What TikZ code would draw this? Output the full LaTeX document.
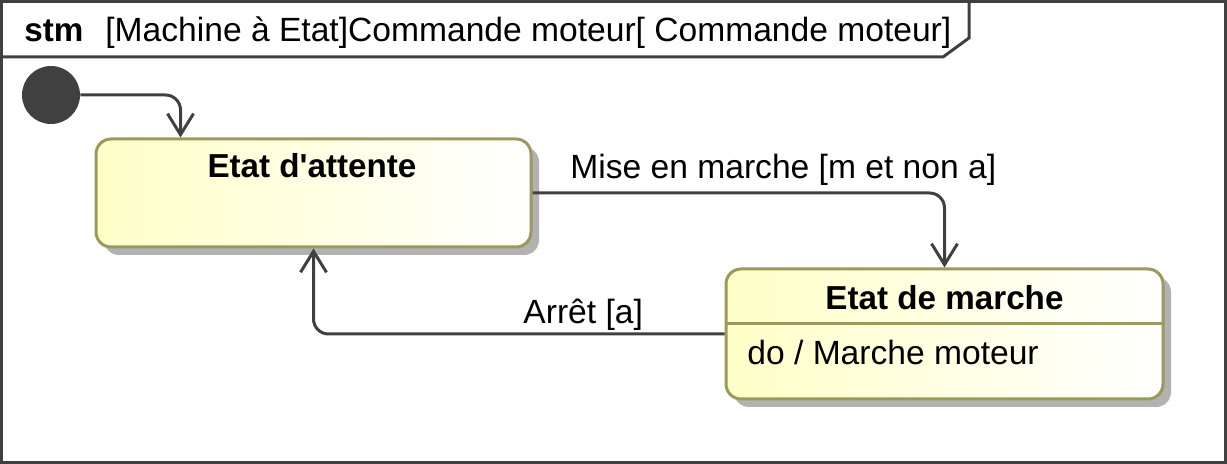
\documentclass[tikz,border=0pt]{standalone}
\usepackage{fontspec}
\setmainfont{Liberation Sans}
\usepackage{tikz}
\usetikzlibrary{shadows}
\usetikzlibrary{positioning}
\usetikzlibrary{arrows.meta}

\definecolor{linegray}{RGB}{64,64,64}
\definecolor{stateborder}{RGB}{155,153,92}
\definecolor{stateyellow}{RGB}{255,255,200}

\begin{document}
\begin{tikzpicture}[x=0.5pt, y=-0.5pt,
        state/.style={rectangle, rounded corners=7.5pt, draw=stateborder, line width=1.5pt, left color=stateyellow, right color=white, drop shadow={shadow xshift=4pt, shadow yshift=-4pt, fill=black!30, opacity=1}},
        initial/.style={circle, fill=linegray, minimum size=29pt, inner sep=0pt},
        trans/.style={draw=linegray, line width=1.5pt, rounded corners=7.5pt, -{Straight Barb[length=10.5pt, width=13pt]}},
        txt/.style={font=\fontsize{16.8}{20}\selectfont, inner sep=0pt},
        title/.style={font=\fontsize{16.6}{20}\selectfont\bfseries, inner sep=0pt}
      ]
        \useasboundingbox (0,0) rectangle (1227,464);

        % frame and tab
        \draw[linegray, line width=1.5pt] (1.5,1.5) rectangle (1225.5,462.5);
        \draw[linegray, line width=1.5pt] (1.5,57) -- (943,57) -- (969,38) -- (969,1.5);
        \node[title, anchor=base west]  (stm)    at (24,42)   {stm};
        \node[txt, anchor=base west]    (header) at (105,42)  {[Machine à Etat]Commande moteur[ Commande moteur]};

        \node[initial]  (init)  at (51,95)  {};
        \node[state, minimum width=217.5pt, minimum height=54pt]  (wait)  at (313.5,193)  {};
        \node[state, minimum width=218.5pt, minimum height=65pt]  (run)   at (944.5,334)  {};

        \node[title, anchor=base]  (waitname)  at (312,178)  {Etat d\textquotesingle attente};
        \node[title, anchor=base]  (runname)   at (944.5,310)  {Etat de marche};
        \path (run.north) ++(0,56) coordinate (sep);
        \draw[stateborder, line width=1.5pt] (run.west |- sep) -- (run.east |- sep);
        \node[txt, anchor=base west]  (runact)  at (747,365)  {do / Marche moteur};

        \draw[trans]  (init.east) -| ([xshift=43pt]wait.north west);
        \draw[trans]  (wait.east) -| (run.north);
        \draw[trans]  (run.west) -| (wait.south);

        \node[txt, anchor=base west]  (startlbl)  at (570,179)  {Mise en marche [m et non a]};
        \node[txt, anchor=base west]  (stoplbl)   at (523,324)  {Arrêt [a]};
      \end{tikzpicture}
\end{document}
